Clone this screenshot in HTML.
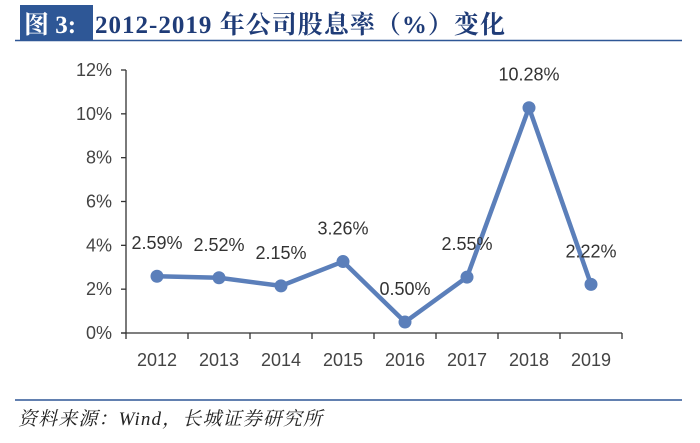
<!DOCTYPE html>
<html><head><meta charset="utf-8"><style>
body{margin:0;background:#fff;width:700px;height:438px;overflow:hidden;font-family:"Liberation Sans","Noto Sans CJK SC",sans-serif}
</style></head><body>
<svg width="700" height="438">
<rect x="20" y="5" width="73" height="35" fill="#2e5796"/>
<text x="24" y="33" font-size="25" font-weight="bold" fill="#fff" font-family="Liberation Serif,'Noto Serif CJK SC',serif">图 3:</text>
<text x="95" y="33" font-size="25" font-weight="bold" fill="#1f3c78" font-family="Liberation Serif,'Noto Serif CJK SC',serif" textLength="410">2012-2019 年公司股息率（%）变化</text>
<line x1="15" y1="40.5" x2="682" y2="40.5" stroke="#2e5796" stroke-width="1.5"/>
<g id="axes"></g>
<g id="series"></g>
<line x1="15" y1="400" x2="682" y2="400" stroke="#2e5796" stroke-width="1.5"/>
<text x="18" y="425" font-size="19" font-style="italic" fill="#222" font-family="Liberation Serif,'Noto Serif CJK SC',serif" textLength="304">资料来源：Wind，长城证券研究所</text>
</svg>
<script>
const categories=["2012","2013","2014","2015","2016","2017","2018","2019"];
const values=[2.59,2.52,2.15,3.26,0.50,2.55,10.28,2.22];
const labels=["2.59%","2.52%","2.15%","3.26%","0.50%","2.55%","10.28%","2.22%"];
const yTicks=[0,2,4,6,8,10,12];
const X0=126,X1=622,Y0=333,Y1=70,YMAX=12;
const step=(X1-X0)/categories.length;
const xs=i=>X0+step*(i+0.5);
const ys=v=>Y0-(v/YMAX)*(Y0-Y1);
const NS="http://www.w3.org/2000/svg";
function mk(tag,attrs,parent){const e=document.createElementNS(NS,tag);for(const k in attrs)e.setAttribute(k,attrs[k]);parent.appendChild(e);return e;}
const ax=document.getElementById('axes'),se=document.getElementById('series');
let l=mk('line',{x1:X0,y1:Y1,x2:X0,y2:Y0,stroke:'#333','stroke-width':1.3},ax);


l=mk('line',{x1:X0-5,y1:Y0,x2:X1,y2:Y0,stroke:'#333','stroke-width':1.3},ax);


yTicks.forEach(t=>{const y=ys(t);
 const tk=mk('line',{x1:X0-5,y1:y,x2:X0,y2:y,stroke:'#333','stroke-width':1.3},ax);
 
 
 const tx=mk('text',{x:X0-14,y:y+6,'text-anchor':'end','font-size':18,fill:'#444'},ax);tx.textContent=t+'%';
 
 
});
for(let i=0;i<=categories.length;i++){const x=X0+step*i;
 const tk=mk('line',{x1:x,y1:Y0,x2:x,y2:Y0+6,stroke:'#333','stroke-width':1.3},ax);
 
 }
categories.forEach((c,i)=>{const tx=mk('text',{x:xs(i),y:Y0+33,'text-anchor':'middle','font-size':18,fill:'#444'},ax);tx.textContent=c;
 
 });
const pl=mk('polyline',{points:values.map((v,i)=>xs(i)+','+ys(v)).join(' '),fill:'none',stroke:'#5b7fba','stroke-width':4.5,'stroke-linejoin':'round'},se);


values.forEach((v,i)=>{
 const c=mk('circle',{cx:xs(i),cy:ys(v),r:6.5,fill:'#5b7fba'},se);
 
 
 const t=mk('text',{x:xs(i),y:ys(v)-27,'text-anchor':'middle','font-size':18,fill:'#333'},se);t.textContent=labels[i];
 
 
});
</script>
</body></html>
